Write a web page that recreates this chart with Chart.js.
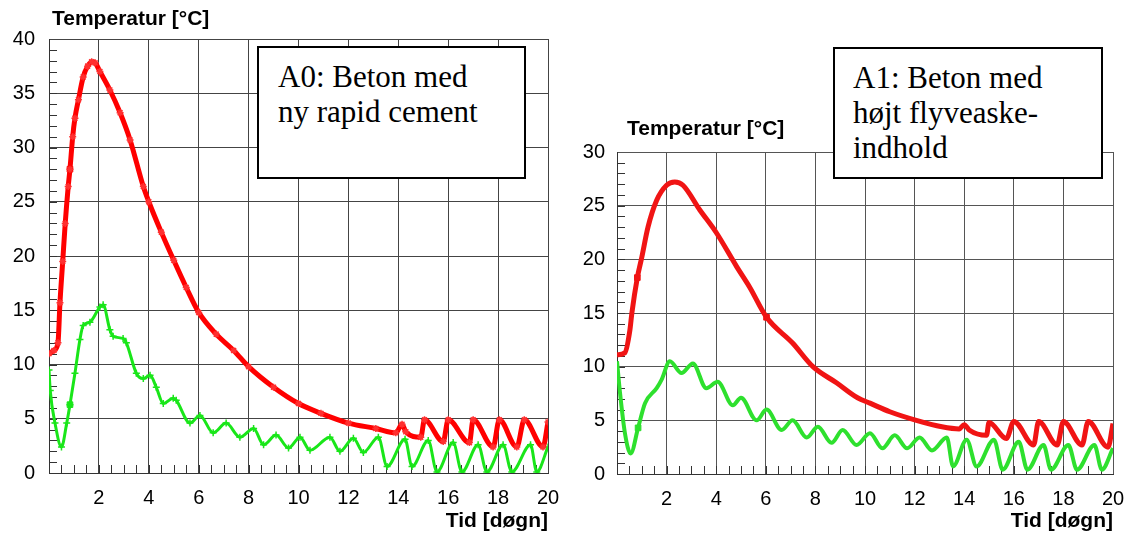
<!DOCTYPE html>
<html>
<head>
<meta charset="utf-8">
<script src="https://cdn.jsdelivr.net/npm/chart.js@4.4.0/dist/chart.umd.min.js"></script>
<style>
  body { margin: 0; background: #fff; width: 1129px; height: 536px; position: relative; overflow: hidden; font-family: 'Liberation Sans', Arial, sans-serif; }
  canvas { position: absolute; top: 0; }
  #leftChart { left: 0; }
  #rightChart { left: 560px; }
  .ytitle { position: absolute; font-weight: bold; font-size: 21px; line-height: 24px; color: #000; white-space: nowrap; }
  .note { position: absolute; box-sizing: border-box; border: 2px solid #000; background: #fff; font-family: 'Liberation Serif', 'Times New Roman', serif; font-size: 31px; line-height: 35px; color: #000; padding-top: 11px; white-space: nowrap; }
</style>
</head>
<body>
<canvas id="leftChart" width="560" height="536"></canvas>
<canvas id="rightChart" width="569" height="536"></canvas>
<div class="ytitle" style="left:52px; top:6px;">Temperatur [°C]</div>
<div class="ytitle" style="left:627px; top:116px;">Temperatur [°C]</div>
<div class="note" style="left:257px; top:46px; width:269px; height:133px; padding-left:19px;">A0: Beton med<br>ny rapid cement</div>
<div class="note" style="left:833px; top:47px; width:270px; height:132px; padding-left:18px;">A1: Beton med<br>højt flyveaske-<br>indhold</div>
<script>
// tick labels
const xTickValues = [0, 2, 4, 6, 8, 10, 12, 14, 16, 18, 20];
const a0YTicks = [0, 5, 10, 15, 20, 25, 30, 35, 40];
const a1YTicks = [0, 5, 10, 15, 20, 25, 30];

// A0 - core (red) and surface (green)
const a0CoreDays = [0, 0.2, 0.36, 0.44, 0.55, 0.65, 0.77, 0.84, 0.95, 1.04, 1.18, 1.37, 1.55, 1.71, 1.85, 2.04, 2.44, 2.85, 3.25, 3.78, 4.0, 4.5, 5.0, 5.5, 6.0, 6.7, 7.4, 8.0, 9.0, 10.0, 10.9, 12.0, 13.1, 13.9, 14.15, 14.3, 14.9, 15.05, 15.8, 16.0, 16.85, 17.0, 17.8, 18.05, 18.75, 19.05, 19.8, 20];
const a0CoreTemp = [11, 11.3, 12, 15.7, 19.5, 23, 26.4, 28, 31, 32.7, 34.4, 36.5, 37.5, 37.9, 37.8, 37.0, 35.3, 33.2, 30.7, 26.4, 25.0, 22.2, 19.6, 17.1, 14.8, 12.8, 11.3, 9.8, 7.9, 6.4, 5.5, 4.6, 4.1, 3.7, 4.5, 3.8, 3.3, 4.9, 2.9, 4.9, 2.8, 4.9, 2.4, 4.9, 2.4, 4.9, 2.4, 4.7];
const a0SurfDays = [0, 0.05, 0.24, 0.5, 0.71, 0.84, 1.04, 1.24, 1.37, 1.64, 2.04, 2.17, 2.44, 2.57, 2.97, 3.1, 3.5, 3.78, 4.05, 4.3, 4.58, 4.98, 5.1, 5.65, 6.05, 6.58, 7.1, 7.65, 8.2, 8.6, 9.1, 9.6, 10.06, 10.46, 11.26, 11.66, 12.2, 12.6, 13.2, 13.55, 14.27, 14.55, 15.2, 15.55, 16.2, 16.55, 17.2, 17.55, 18.2, 18.55, 19.3, 19.55, 20];
const a0SurfTemp = [9.5, 7.6, 4.6, 2.4, 4.6, 6.3, 9.2, 12.3, 13.6, 13.9, 15.3, 15.5, 13.2, 12.6, 12.4, 12.0, 9.2, 8.7, 9.0, 7.9, 6.4, 6.9, 6.7, 4.6, 5.3, 3.7, 4.6, 3.3, 4.1, 2.6, 3.5, 2.3, 3.3, 2.1, 3.3, 2.0, 3.2, 1.9, 3.3, 0.6, 3.1, 0.6, 3.0, 0.1, 2.8, 0.1, 2.6, 0.1, 2.6, 0.1, 2.6, 0.1, 2.4];
const a0MarkDays = [0.84, 0.84];
const a0MarkTemp = [28, 6.3];

// A1 - core (red) and surface (green)
const a1CoreDays = [0, 0.32, 0.52, 0.6, 0.82, 1.0, 1.25, 1.6, 2.0, 2.33, 2.66, 3.34, 4.0, 4.83, 5.35, 6.03, 7.08, 7.9, 8.85, 9.7, 10.2, 11.0, 12.07, 13.1, 13.8, 14.0, 14.2, 14.9, 15.0, 15.7, 16.0, 16.8, 17.0, 17.75, 18.0, 18.75, 19.0, 19.8, 20];
const a1CoreTemp = [11.1, 11.3, 13.4, 15, 18.3, 20.2, 23, 25.5, 26.9, 27.2, 26.9, 24.6, 22.5, 19.3, 17.4, 14.6, 12.2, 10, 8.5, 7.1, 6.6, 5.8, 5.0, 4.4, 4.2, 4.6, 4.1, 3.6, 4.8, 3.3, 4.9, 2.7, 4.9, 2.7, 4.9, 2.7, 4.9, 2.5, 4.7];
const a1SurfDays = [0, 0.12, 0.32, 0.55, 0.85, 1.13, 1.6, 1.8, 2.13, 2.6, 3.06, 3.6, 4.06, 4.67, 5.0, 5.63, 6.03, 6.64, 7.08, 7.65, 8.1, 8.65, 9.1, 9.66, 10.2, 10.7, 11.2, 11.7, 12.2, 12.7, 13.3, 13.55, 14.1, 14.5, 15.2, 15.55, 16.2, 16.55, 17.2, 17.5, 18.2, 18.55, 19.25, 19.55, 20];
const a1SurfTemp = [10.5, 7.6, 3.8, 1.9, 4.3, 6.6, 8.0, 8.8, 10.5, 9.4, 10.3, 8.0, 8.6, 6.4, 7.1, 5.0, 6.0, 4.1, 5.0, 3.4, 4.4, 2.9, 4.1, 2.7, 3.8, 2.4, 3.6, 2.4, 3.4, 2.2, 3.4, 0.7, 3.2, 0.7, 3.2, 0.4, 3.0, 0.4, 2.7, 0.4, 2.7, 0.4, 2.7, 0.4, 2.4];
const a1MarkDays = [0.82, 6.03, 0.85];
const a1MarkTemp = [18.3, 14.6, 4.3];

const FONT = "'Liberation Sans', Arial, sans-serif";

const toPoints = (days, temps) => days.map((d, i) => ({ x: d, y: temps[i] }));

// short inward ticks: every 1 degree on y, every half day on x
const minorTicks = {
  id: 'minorTicks',
  beforeDatasetsDraw(chart) {
    const { ctx, chartArea, scales: { x, y } } = chart;
    ctx.save();
    ctx.strokeStyle = '#333';
    ctx.lineWidth = 1;
    ctx.beginPath();
    for (let v = 1; v < y.max; v++) {
      const py = Math.round(y.getPixelForValue(v)) + 0.5;
      ctx.moveTo(chartArea.left, py);
      ctx.lineTo(chartArea.left + 8, py);
    }
    for (let v = 0.5; v < x.max; v += 0.5) {
      const px = Math.round(x.getPixelForValue(v)) + 0.5;
      ctx.moveTo(px, chartArea.bottom);
      ctx.lineTo(px, chartArea.bottom - 8);
    }
    ctx.stroke();
    ctx.restore();
  }
};

function makeChart(id, opts) {
  const canvas = document.getElementById(id);
  return new Chart(canvas, {
    type: 'line',
    data: { datasets: opts.datasets },
    options: {
      responsive: false,
      animation: false,
      layout: { padding: { top: opts.top, right: opts.right, left: 0, bottom: 0 } },
      plugins: { legend: { display: false }, tooltip: { enabled: false } },
      elements: { line: { cubicInterpolationMode: 'monotone' } },
      scales: {
        x: {
          type: 'linear', min: 0, max: 20,
          afterBuildTicks: s => { s.ticks = xTickValues.map(v => ({ value: v })); },
          afterFit: s => { s.height = opts.xHeight; s.paddingLeft = 0; s.paddingRight = 0; },
          grid: { color: opts.gridColor, lineWidth: 1, drawTicks: false },
          border: { color: '#333', width: 1 },
          ticks: {
            font: { family: FONT, size: 20 }, color: '#000', padding: 13,
            maxRotation: 0, autoSkip: false,
            callback: v => (v === 0 ? '' : v)
          },
          title: {
            display: true, text: 'Tid [døgn]', align: 'end', color: '#000',
            font: { family: FONT, size: 21, weight: 'bold' },
            padding: { top: 0, bottom: 2 }
          }
        },
        y: {
          min: 0, max: opts.yTicks[opts.yTicks.length - 1],
          afterBuildTicks: s => { s.ticks = opts.yTicks.map(v => ({ value: v })); },
          afterFit: s => { s.width = opts.yWidth; s.paddingTop = 0; s.paddingBottom = 0; },
          grid: { color: opts.gridColor, lineWidth: 1, drawTicks: false },
          border: { color: '#333', width: 1 },
          ticks: { font: { family: FONT, size: 20 }, color: '#000', padding: opts.yPad }
        }
      }
    },
    plugins: [minorTicks]
  });
}

makeChart('leftChart', {
  top: 39, right: 12, xHeight: 63, yWidth: 49, yPad: 14,
  yTicks: a0YTicks, gridColor: '#444',
  datasets: [
    {
      data: toPoints(a0CoreDays, a0CoreTemp),
      borderColor: '#ff0000', borderWidth: 5,
      pointStyle: 'star', pointRadius: 3.5, pointBorderWidth: 1.5,
      pointBorderColor: '#ff3030', pointBackgroundColor: '#ff3030'
    },
    {
      data: toPoints(a0SurfDays, a0SurfTemp),
      borderColor: '#19e619', borderWidth: 3,
      pointStyle: 'cross', pointRadius: 3.5, pointBorderWidth: 1.5,
      pointBorderColor: '#19e619'
    },
    {
      data: toPoints(a0MarkDays, a0MarkTemp),
      showLine: false, pointStyle: 'rect', pointRadius: 4,
      pointBackgroundColor: ['#ff0000', '#19e619'], pointBorderColor: ['#ff0000', '#19e619']
    }
  ]
});

makeChart('rightChart', {
  top: 152, right: 16, xHeight: 62, yWidth: 57, yPad: 12,
  yTicks: a1YTicks, gridColor: '#555',
  datasets: [
    {
      data: toPoints(a1CoreDays, a1CoreTemp),
      borderColor: '#f01414', borderWidth: 5, pointRadius: 0
    },
    {
      data: toPoints(a1SurfDays, a1SurfTemp),
      borderColor: '#2ee02e', borderWidth: 4, pointRadius: 0
    },
    {
      data: toPoints(a1MarkDays, a1MarkTemp),
      showLine: false, pointStyle: 'rect', pointRadius: 4,
      pointBackgroundColor: ['#f01414', '#f01414', '#2ee02e'], pointBorderColor: ['#f01414', '#f01414', '#2ee02e']
    }
  ]
});
</script>
</body>
</html>
